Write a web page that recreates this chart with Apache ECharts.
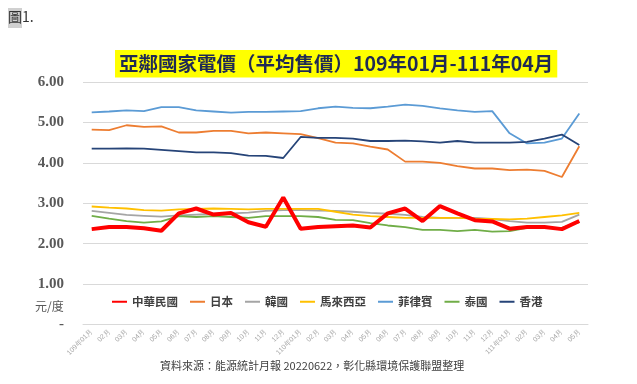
<!DOCTYPE html>
<html>
<head>
<meta charset="utf-8">
<script src="https://cdn.jsdelivr.net/npm/echarts@6/dist/echarts.min.js"></script>
<style>
html,body{margin:0;padding:0;background:#fff;}
#c{width:637px;height:384px;}
</style>
</head>
<body>
<div id="c"></div>
<script>
const months = ['109年01月','02月','03月','04月','05月','06月','07月','08月','09月','10月','11月','12月',
  '110年01月','02月','03月','04月','05月','06月','07月','08月','09月','10月','11月','12月',
  '111年01月','02月','03月','04月','05月'];
const yTicks = [0,1,2,3,4,5,6];

const taiwan = [2.36,2.41,2.41,2.38,2.32,2.75,2.87,2.72,2.76,2.53,2.42,3.14,2.37,2.41,2.43,2.45,2.40,2.75,2.87,2.56,2.93,2.75,2.58,2.55,2.37,2.41,2.41,2.36,2.56];
const japan = [4.82,4.81,4.93,4.89,4.90,4.75,4.75,4.79,4.79,4.73,4.75,4.73,4.71,4.61,4.50,4.48,4.40,4.33,4.03,4.03,4.00,3.92,3.86,3.86,3.82,3.83,3.80,3.65,4.41];
const korea = [2.81,2.76,2.71,2.69,2.67,2.70,2.72,2.74,2.75,2.77,2.81,2.83,2.83,2.82,2.81,2.79,2.76,2.74,2.71,2.66,2.64,2.64,2.64,2.61,2.56,2.52,2.52,2.54,2.72];
const malaysia = [2.92,2.89,2.87,2.83,2.82,2.85,2.86,2.87,2.86,2.85,2.86,2.86,2.86,2.86,2.79,2.72,2.68,2.66,2.64,2.64,2.64,2.64,2.62,2.61,2.60,2.62,2.66,2.70,2.76];
const philippines = [5.25,5.27,5.30,5.28,5.38,5.38,5.30,5.27,5.24,5.26,5.26,5.27,5.28,5.35,5.39,5.36,5.35,5.39,5.44,5.41,5.35,5.30,5.26,5.28,4.73,4.48,4.50,4.60,5.22];
const thailand = [2.69,2.62,2.56,2.52,2.55,2.68,2.66,2.68,2.66,2.64,2.68,2.68,2.68,2.66,2.59,2.58,2.51,2.45,2.41,2.34,2.34,2.31,2.34,2.30,2.31,2.39,2.39,2.39,2.53];
const hongkong = [4.35,4.35,4.36,4.35,4.32,4.29,4.26,4.26,4.24,4.18,4.17,4.12,4.64,4.62,4.62,4.60,4.54,4.54,4.55,4.53,4.50,4.54,4.50,4.50,4.50,4.52,4.60,4.70,4.44];

const seriesNames = ['中華民國','日本','韓國','馬來西亞','菲律賓','泰國','香港'];
const seriesData = [taiwan, japan, korea, malaysia, philippines, thailand, hongkong];
const colors = ['#FF0000','#ED7D31','#A5A5A5','#FFC000','#5B9BD5','#70AD47','#264478'];
const widths = [4,1.8,1.8,1.8,1.8,1.8,1.8];

const chart = echarts.init(document.getElementById('c'), null, {renderer:'canvas'});
chart.setOption({
  animation:false,
  backgroundColor:'#fff',
  color: colors,
  title:{
    text:'亞鄰國家電價（平均售價）109年01月-111年04月',
    left:115, top:50,
    backgroundColor:'#FFFF00',
    padding:[4,4,4,4],
    textStyle:{fontFamily:'"Noto Sans CJK TC","Liberation Serif",serif',fontWeight:'bold',fontSize:19.5,color:'#1F2A55'}
  },
  graphic:[
    {type:'rect',shape:{x:8,y:8,width:14,height:20},style:{fill:'#d0d0d0'}},
    {type:'text',left:8,top:10,style:{text:'圖1.',font:'14px "Noto Sans CJK TC"',fill:'#333'}},
    {type:'text',left:35,top:300,style:{text:'元/度',font:'12px "Noto Sans CJK TC"',fill:'#595959'}},
    {type:'text',left:160,top:360,style:{text:'資料來源：能源統計月報 20220622，彰化縣環境保護聯盟整理',font:'11px "Noto Sans CJK TC"',fill:'#404040'}}
  ],
  legend:{
    left:106, top:291, itemWidth:15, itemHeight:12, itemGap:11,
    data: seriesNames,
    itemStyle:{opacity:0},
    textStyle:{fontFamily:'"Noto Sans CJK TC",serif',fontWeight:'bold',fontSize:11.5,color:'#404040'}
  },
  grid:{left:83,right:49,top:82,bottom:59.5},
  xAxis:{
    type:'category', data:months, boundaryGap:true,
    axisLine:{lineStyle:{color:'#d9d9d9'}},
    axisTick:{show:false},
    axisLabel:{interval:0,rotate:45,fontSize:7,color:'#a6a6a6',margin:6}
  },
  yAxis:{
    type:'value', min:0, max:6, interval:1,
    axisLine:{show:false}, axisTick:{show:false},
    splitLine:{lineStyle:{color:'#d9d9d9'}},
    axisLabel:{fontFamily:'"Liberation Serif",serif',fontWeight:'bold',fontSize:15,color:'#595959',margin:19,
      formatter:v=> v===0 ? '-' : v.toFixed(2)}
  },
  series: seriesNames.map((n,i)=>({
    name:n, type:'line', data:seriesData[i], symbol:'none', smooth:false,
    z: i===0 ? 5 : 2,
    lineStyle:{width:widths[i], color:colors[i]},
    itemStyle:{color:colors[i]}
  }))
});
</script>
</body>
</html>
